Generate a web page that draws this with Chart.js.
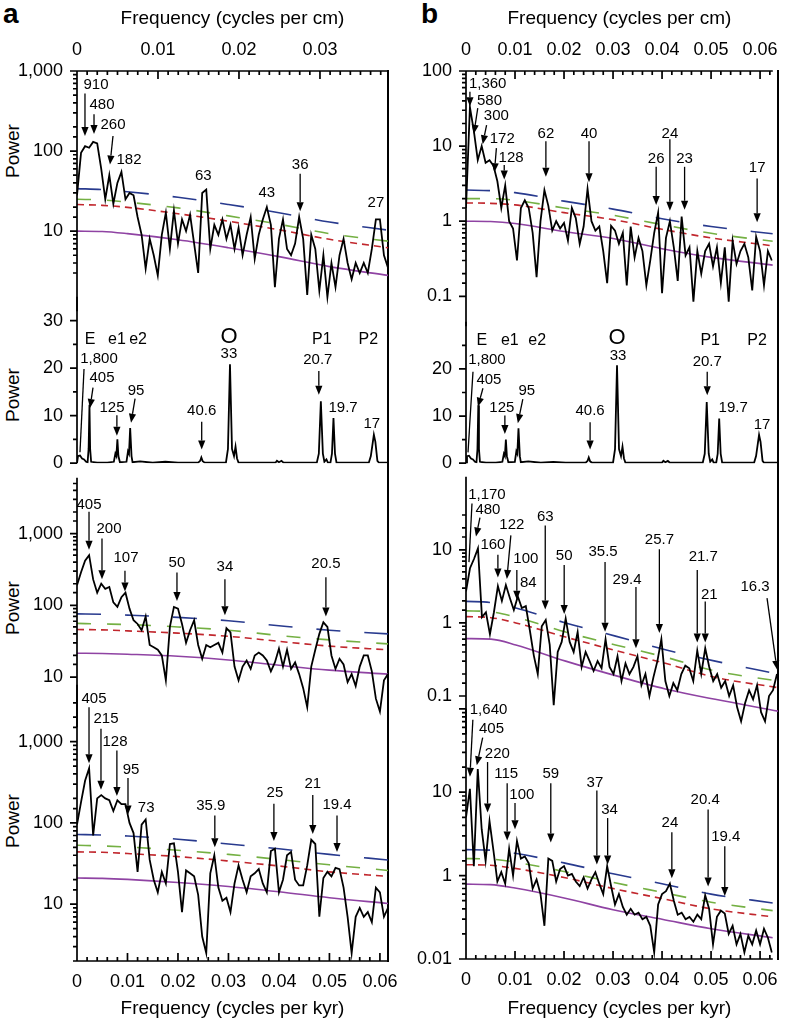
<!DOCTYPE html>
<html>
<head>
<meta charset="utf-8">
<script src="https://cdn.jsdelivr.net/npm/chart.js@4"></script>
<style>
  body { margin: 0; width: 788px; height: 1020px; position: relative; overflow: hidden; background: #fff;
         font-family: "Liberation Sans", Arial, Helvetica, sans-serif; }
  canvas { position: absolute; }
  .power { position: absolute; font-size: 19px; transform: translate(-50%, -50%) rotate(-90deg); white-space: nowrap; }
  .letter { position: absolute; font-size: 28px; font-weight: bold; }
  .edge { position: absolute; width: 2px; background: #000; }
</style>
</head>
<body>
<div class="letter" style="left:3px;top:-2px">a</div>
<div class="letter" style="left:421px;top:-2px">b</div>
<div class="power" style="left:13px;top:151px">Power</div>
<div class="power" style="left:13px;top:395px">Power</div>
<div class="power" style="left:13px;top:608px">Power</div>
<div class="power" style="left:13px;top:821px">Power</div>
<div class="edge" style="left:387px;top:70px;height:892px"></div>
<div class="edge" style="left:777px;top:70px;height:890px"></div>
<script>
const FONT = '"Liberation Sans", Arial, Helvetica, sans-serif';
Chart.defaults.font.family = FONT;
Chart.defaults.color = '#000';

// frequency grid (cycles per kyr) for the measured spectra
const freq = [0, 0.0008, 0.0016, 0.0024, 0.0032, 0.004, 0.0048, 0.0056, 0.0064, 0.0072,
  0.008, 0.0088, 0.0096, 0.0104, 0.0112, 0.012, 0.0128, 0.0136, 0.0144, 0.0152,
  0.016, 0.0168, 0.0176, 0.0184, 0.0192, 0.02, 0.0208, 0.0216, 0.0224, 0.0232,
  0.024, 0.0248, 0.0256, 0.0264, 0.0272, 0.028, 0.0288, 0.0296, 0.0304, 0.0312,
  0.032, 0.0328, 0.0336, 0.0344, 0.0352, 0.036, 0.0368, 0.0376, 0.0384, 0.0392,
  0.04, 0.0408, 0.0416, 0.0424, 0.0432, 0.044, 0.0448, 0.0456, 0.0464, 0.0472,
  0.048, 0.0488, 0.0496, 0.0504, 0.0512, 0.052, 0.0528, 0.0536, 0.0544, 0.0552,
  0.056, 0.0568, 0.0576, 0.0584, 0.0592, 0.06, 0.0608, 0.0616, 0.0624];

// column a spectra
const powerA1 = [28, 95, 115, 110, 130, 125, 60, 25, 50, 22,
  40, 55, 25, 30, 28, 15, 9, 3.4, 8, 5,
  2.8, 9, 17, 6, 18, 7, 14, 10, 16, 7,
  3, 30, 33, 6, 12, 9, 14, 8, 12, 6,
  11, 5, 9, 15, 4.5, 9, 14, 20, 12, 2,
  8, 14, 6, 5, 7, 15, 8, 1.6, 9, 6,
  1.8, 5, 1.5, 4, 2, 5, 8, 4, 2.5, 4,
  3, 4, 3, 6, 14, 14, 5, 3.5];
const powerA3 = [190, 290, 420, 500, 230, 150, 200, 170, 180, 110,
  95, 130, 150, 90, 62, 55, 45, 70, 28, 26,
  24, 20, 9, 50, 95, 90, 55, 30, 45, 62,
  28, 18, 28, 26, 28, 30, 22, 48, 42, 14,
  9, 14, 17, 13, 20, 22, 20, 17, 12, 16,
  25, 14, 24, 13, 16, 11, 7, 3.8, 14, 24,
  40, 58, 50, 20, 13, 18, 15, 8.5, 11, 7.5,
  14, 20, 20, 12, 5, 3.3, 9, 11];
const powerA4 = [95, 180, 330, 470, 70, 200, 220, 200, 190, 140,
  190, 170, 170, 100, 75, 25, 95, 110, 35, 20,
  14, 25, 18, 55, 56, 25, 8, 26, 24, 22,
  13, 4, 2.5, 24, 40, 16, 11, 12, 8, 18,
  30, 20, 14, 22, 24, 27, 18, 14, 45, 48,
  14, 20, 40, 44, 20, 17, 17, 30, 62, 55,
  7, 21, 25, 22, 28, 27, 16, 7, 2.5, 7,
  9, 7, 8, 6, 16, 14, 7, 9];

// column b spectra
const powerB1 = [1.5, 33, 16, 6.5, 10, 6, 6.5, 5.5, 3.4, 1.5,
  3.0, 1.0, 0.8, 0.3, 1.5, 1.9, 1.5, 0.7, 0.18, 1.0,
  2.6, 1.6, 0.75, 1.0, 0.8, 0.95, 0.55, 1.5, 1.1, 0.5,
  0.85, 2.7, 1.0, 0.75, 0.85, 0.4, 0.15, 0.87, 0.75, 0.5,
  0.7, 0.14, 0.85, 0.33, 0.6, 0.4, 0.14, 0.3, 0.7, 1.3,
  0.11, 0.6, 1.0, 0.45, 0.16, 1.15, 0.35, 0.45, 0.085, 0.4,
  0.2, 0.4, 0.5, 0.25, 0.45, 0.15, 0.45, 0.085, 0.55, 0.27,
  0.4, 0.5, 0.33, 0.12, 0.62, 0.4, 0.14, 0.4, 0.3];
const powerB3 = [2.7, 5.6, 7.5, 10.5, 1.2, 1.4, 0.7, 1.4, 3.2, 2.0,
  3.3, 2.2, 1.5, 2.3, 1.6, 1.7, 0.8, 0.36, 0.2, 0.9,
  1.1, 0.5, 0.075, 0.4, 0.55, 1.15, 0.55, 0.4, 0.75, 0.25,
  0.4, 0.3, 0.22, 0.3, 0.24, 0.6, 0.25, 0.2, 0.35, 0.16,
  0.28, 0.2, 0.25, 0.35, 0.14, 0.2, 0.1, 0.18, 0.3, 0.6,
  0.16, 0.1, 0.15, 0.12, 0.2, 0.26, 0.24, 0.16, 0.42, 0.2,
  0.45, 0.25, 0.16, 0.2, 0.13, 0.16, 0.1, 0.14, 0.07, 0.045,
  0.08, 0.12, 0.09, 0.14, 0.06, 0.045, 0.1, 0.12, 0.2];
const powerB4 = [5, 11, 1.3, 19, 3.6, 1.5, 4.5, 2.0, 0.85, 1.1,
  0.8, 2.1, 1.0, 2.6, 1.6, 1.7, 1.4, 0.7, 0.9, 0.6,
  0.25, 1.6, 1.5, 0.85, 1.2, 1.3, 1.0, 1.05, 0.85, 0.75,
  0.95, 0.7, 0.9, 1.1, 0.8, 0.6, 1.3, 0.75, 0.45, 0.6,
  0.42, 0.34, 0.4, 0.34, 0.36, 0.3, 0.32, 0.25, 0.12, 0.45,
  0.6, 0.65, 0.8, 0.5, 0.34, 0.36, 0.3, 0.32, 0.28, 0.34,
  0.3, 0.58, 0.4, 0.15, 0.32, 0.38, 0.35, 0.2, 0.25, 0.15,
  0.2, 0.12, 0.19, 0.15, 0.22, 0.15, 0.23, 0.18, 0.12];

// astronomical target spectrum (same in both columns)
const targetF = [0, 0.0002, 0.0006, 0.001, 0.0014, 0.0018, 0.0021, 0.0023, 0.00247, 0.0026, 0.0028,
  0.004, 0.006, 0.0073, 0.0076, 0.0078, 0.008, 0.0082, 0.0085, 0.0098, 0.0101, 0.0103, 0.01053,
  0.0108, 0.011, 0.0125, 0.015, 0.0175, 0.02, 0.024, 0.0244, 0.02463, 0.0249, 0.0253, 0.0295,
  0.0299, 0.0303, 0.0307, 0.0311, 0.0314, 0.0317, 0.032, 0.035, 0.0393, 0.0396, 0.04, 0.0405,
  0.0409, 0.0475, 0.0479, 0.0483, 0.0487, 0.049, 0.0494, 0.0497, 0.0502, 0.0505, 0.0508, 0.0511,
  0.0514, 0.0578, 0.0582, 0.0586, 0.0588, 0.0591, 0.0595, 0.0598, 0.0626];
const targetP = [0, 1.5, 1.6, 1.0, 0.8, 0.3, 0.2, 3, 12.3, 3, 0.3,
  0.1, 0.1, 0.3, 2.0, 1.5, 5.0, 1.5, 0.2, 0.3, 2.5, 2.0, 7.4,
  1.5, 0.2, 0.4, 0.1, 0.3, 0.1, 0.1, 0.5, 1.2, 0.4, 0.1, 0.1,
  3, 20.8, 3, 1.5, 3.5, 1, 0.1, 0.1, 0.1, 0.5, 0.2, 0.5,
  0.1, 0.1, 2, 13, 2, 0.3, 0.8, 0.1, 0.1, 2, 9.5, 2,
  0.1, 0.1, 1.5, 4.5, 6, 4.5, 0.5, 0.1, 0.1];

// background / confidence levels: purple = red-noise fit, then red, green, blue levels
const levelFA = [0, 0.005, 0.01, 0.02, 0.03, 0.04, 0.05, 0.0616];
const levelFB = [0, 0.005, 0.01, 0.02, 0.03, 0.04, 0.05, 0.0626];
const purpleA1 = [10, 9.9, 9.3, 7.8, 6.2, 4.8, 3.6, 2.8];
const redA1 = [21.5, 21, 19.8, 16.5, 13.3, 10.4, 7.9, 6.2];
const greenA1 = [25, 24.5, 23, 19.5, 15.5, 12.2, 9.3, 7.5];
const blueA1 = [34, 33, 31, 26.5, 21.5, 17, 13, 10.3];
const purpleA3 = [21.5, 21.3, 20.8, 19.5, 17.3, 14.6, 12.5, 11];
const redA3 = [46, 45.5, 44, 41, 37, 31.5, 27, 24];
const greenA3 = [56, 55, 54, 50, 45, 38, 33, 29];
const blueA3 = [76, 75, 73, 68, 61, 52, 45, 40];
const purpleA4 = [21, 20.8, 20.2, 18.5, 16.5, 14.2, 12, 10.2];
const redA4 = [44, 43.5, 42, 38.5, 34, 29.5, 25, 22];
const greenA4 = [53, 52, 50.5, 46, 41, 35.5, 30.5, 26];
const blueA4 = [72, 71, 69, 63, 55, 48, 41, 35];
const purpleB1 = [1.0, 0.99, 0.93, 0.73, 0.59, 0.43, 0.33, 0.26];
const redB1 = [1.75, 1.73, 1.65, 1.3, 1.05, 0.78, 0.6, 0.47];
const greenB1 = [2.0, 2.0, 1.9, 1.5, 1.2, 0.9, 0.69, 0.54];
const blueB1 = [2.6, 2.55, 2.4, 1.85, 1.45, 1.08, 0.85, 0.68];
const purpleB3 = [0.61, 0.6, 0.5, 0.3, 0.19, 0.125, 0.09, 0.062];
const redB3 = [1.22, 1.18, 1.0, 0.64, 0.42, 0.28, 0.18, 0.13];
const greenB3 = [1.46, 1.42, 1.2, 0.75, 0.5, 0.34, 0.22, 0.16];
const blueB3 = [1.97, 1.9, 1.6, 1.0, 0.66, 0.43, 0.3, 0.2];
const purpleB4 = [0.79, 0.78, 0.71, 0.54, 0.39, 0.3, 0.23, 0.18];
const redB4 = [1.35, 1.33, 1.22, 0.95, 0.7, 0.53, 0.4, 0.32];
const greenB4 = [1.6, 1.58, 1.45, 1.12, 0.83, 0.63, 0.48, 0.38];
const blueB4 = [2.05, 2.02, 1.85, 1.42, 1.05, 0.8, 0.6, 0.47];

// period labels: [text, label f, label power, arrow tail f, tail power, arrow tip f, tip power, kind]
const notesA1 = [
  ['910', 0.00376, 667, 0.00158, 522, 0.00158, 154],
  ['480', 0.00495, 377, 0.00337, 288, 0.00337, 163],
  ['260', 0.00713, 213, 0.00713, 154, 0.00653, 68],
  ['182', 0.0103, 78],
  ['63', 0.025, 49],
  ['43', 0.0376, 30],
  ['36', 0.0442, 68, 0.0442, 52, 0.0442, 17.7],
  ['27', 0.0592, 22.5]
];
const notesA2 = [
  ['1,800', 0.00436, 21.9, 0.00139, 19.8, 0.00059, 2.3, 'line'],
  ['405', 0.00495, 18, 0.00317, 15.9, 0.00257, 11.6],
  ['125', 0.00693, 11.7, 0.0079, 10.1, 0.0079, 5.8],
  ['95', 0.0117, 15.3, 0.0115, 13.6, 0.0107, 8.5],
  ['40.6', 0.0247, 11.1, 0.0247, 8.7, 0.0247, 2.9],
  ['33', 0.0301, 22.9],
  ['20.7', 0.0477, 21.7, 0.0479, 19.4, 0.0479, 14.4],
  ['19.7', 0.0527, 11.7],
  ['17', 0.0584, 8.2]
];
const lettersA2 = [['E', 0.00257, 26], ['e1', 0.0079, 26], ['e2', 0.0121, 26],
  ['O', 0.0301, 26.6], ['P1', 0.0485, 26], ['P2', 0.0577, 26]];
const notesA3 = [
  ['405', 0.00238, 2490, 0.00238, 2020, 0.00238, 596],
  ['200', 0.00634, 1160, 0.00495, 858, 0.00495, 231],
  ['107', 0.0097, 453, 0.0095, 304, 0.0095, 156],
  ['50', 0.0198, 388, 0.0198, 286, 0.0198, 115],
  ['34', 0.0293, 344, 0.0293, 231, 0.0293, 73],
  ['20.5', 0.0493, 377, 0.0493, 246, 0.0493, 70]
];
const notesA4 = [
  ['405', 0.00337, 3320, 0.00238, 2650, 0.00238, 541],
  ['215', 0.00574, 1900, 0.00475, 1440, 0.00475, 255],
  ['128', 0.00752, 1000, 0.0079, 778, 0.0079, 215],
  ['95', 0.0107, 445, 0.0101, 356, 0.0101, 127],
  ['73', 0.0137, 154],
  ['35.9', 0.0265, 163, 0.0273, 123, 0.0273, 50],
  ['25', 0.0392, 234, 0.039, 172, 0.039, 60],
  ['21', 0.0467, 301, 0.0467, 221, 0.0467, 73],
  ['19.4', 0.0515, 168, 0.0515, 123, 0.0515, 44]
];
const notesB1 = [
  ['1,360', 0.00442, 68, 0.0008, 53, 0.0008, 34],
  ['580', 0.0048, 40.5, 0.0024, 32, 0.0016, 14.6],
  ['300', 0.0062, 25.4, 0.0042, 19, 0.0034, 10.6],
  ['172', 0.0074, 12.3, 0.0062, 9.4, 0.0058, 4.5],
  ['128', 0.0092, 7.0, 0.0078, 5.6, 0.0078, 3.6],
  ['62', 0.0163, 14.6, 0.0163, 11.6, 0.0163, 3.9],
  ['40', 0.0251, 14.6, 0.0251, 11.6, 0.0251, 3.3],
  ['24', 0.0416, 14.6, 0.0416, 12.3, 0.0416, 1.38],
  ['26', 0.0388, 6.8, 0.0388, 5.3, 0.0388, 1.64],
  ['23', 0.0446, 6.8, 0.0446, 5.3, 0.0446, 1.42],
  ['17', 0.0594, 5.1, 0.0594, 3.7, 0.0594, 0.97]
];
const notesB2 = [
  ['1,800', 0.0042, 21.9, 0.0014, 19.4, 0.0004, 2.3, 'line'],
  ['405', 0.0046, 17.7, 0.0034, 15.9, 0.0024, 12],
  ['125', 0.0072, 11.7, 0.0078, 10.1, 0.0078, 6.2],
  ['95', 0.0122, 15.3, 0.0114, 13.6, 0.0104, 8.5],
  ['40.6', 0.0249, 11.1, 0.0249, 8.7, 0.0249, 2.9],
  ['33', 0.0305, 22.7],
  ['20.7', 0.0484, 21.4, 0.0484, 19.4, 0.0484, 14.4],
  ['19.7', 0.0536, 11.7],
  ['17', 0.0594, 8.2]
];
const lettersB2 = [['E', 0.0032, 26], ['e1', 0.0088, 26], ['e2', 0.0143, 26],
  ['O', 0.0303, 26.6], ['P1', 0.049, 26], ['P2', 0.0584, 26]];
const notesB3 = [
  ['1,170', 0.0042, 57, 0.0012, 43, 0.0006, 6.8, 'line'],
  ['480', 0.0044, 35, 0.0028, 27.7, 0.002, 15.2],
  ['122', 0.0092, 22, 0.009, 15.8, 0.0082, 4.0],
  ['160', 0.0054, 11.6, 0.0064, 8.6, 0.0064, 4.2],
  ['100', 0.012, 7.6, 0.0102, 5.3, 0.0102, 2.07],
  ['84', 0.0125, 3.5],
  ['63', 0.0159, 28, 0.0159, 21.5, 0.0159, 1.53],
  ['50', 0.0197, 8.2, 0.0197, 6.2, 0.0197, 1.32],
  ['35.5', 0.0275, 9.4, 0.0279, 6.8, 0.0279, 0.76],
  ['29.4', 0.0323, 3.9, 0.0341, 3.1, 0.0341, 0.45],
  ['25.7', 0.0388, 13.5, 0.0388, 10.2, 0.0388, 0.73],
  ['21.7', 0.0476, 8.1, 0.0464, 5.3, 0.0464, 0.54],
  ['21', 0.0488, 2.45, 0.048, 1.97, 0.048, 0.54],
  ['16.3', 0.058, 3.1, 0.0604, 2.18, 0.0624, 0.23]
];
const notesB4 = [
  ['1,640', 0.0046, 97, 0.0014, 74, 0.0008, 15.3],
  ['405', 0.0052, 58, 0.0034, 45, 0.0022, 21],
  ['220', 0.0064, 28.8, 0.0044, 23, 0.0044, 5.7],
  ['115', 0.0082, 16.4, 0.0084, 12.8, 0.0084, 2.63],
  ['100', 0.0114, 9.3, 0.01, 7.4, 0.01, 3.6],
  ['59', 0.0173, 16.4, 0.0173, 12.8, 0.0173, 2.5],
  ['37', 0.0263, 13, 0.0267, 10.5, 0.0267, 1.36],
  ['34', 0.0293, 6.1, 0.0289, 4.9, 0.0289, 1.36],
  ['24', 0.0416, 4.3, 0.042, 3.3, 0.042, 0.93],
  ['20.4', 0.0488, 8.0, 0.0494, 6.2, 0.0494, 0.74],
  ['19.4', 0.053, 2.9, 0.0528, 2.25, 0.0528, 0.57]
];

// y tick labels shown on each panel: [value, text]
const yLabelsLog3 = [[10, '10'], [100, '100'], [1000, '1,000']];
const yLabelsA2 = [[0, '0'], [10, '10'], [20, '20'], [30, '30']];
const yLabelsB1 = [[0.1, '0.1'], [1, '1'], [10, '10'], [100, '100']];
const yLabelsB2 = [[0, '0'], [10, '10'], [20, '20']];
const yLabelsB3 = [[0.1, '0.1'], [1, '1'], [10, '10']];
const yLabelsB4 = [[0.1, '0.01'], [1, '1'], [10, '10']];

const COLORS = { purple: '#8f43a3', red: '#c1272d', green: '#74b043', blue: '#283a8e' };

function arrow(ctx, x1, y1, x2, y2, head) {
  const ang = Math.atan2(y2 - y1, x2 - x1);
  const hl = head ? 9 : 0, hw = 3.6;
  const c = Math.cos(ang), s = Math.sin(ang);
  ctx.beginPath();
  ctx.moveTo(x1, y1);
  ctx.lineTo(x2 - hl * c, y2 - hl * s);
  ctx.stroke();
  if (head) {
    ctx.beginPath();
    ctx.moveTo(x2, y2);
    ctx.lineTo(x2 - hl * c - hw * s, y2 - hl * s + hw * c);
    ctx.lineTo(x2 - hl * c + hw * s, y2 - hl * s - hw * c);
    ctx.closePath();
    ctx.fill();
  }
}

// frame, inward/outward tick marks and the period labels
const decor = {
  id: 'decor',
  afterDatasetsDraw(chart, args, o) {
    const { ctx, chartArea: a, scales } = chart;
    const xs = scales.x, ys = scales.y;
    const px = v => xs.getPixelForValue(v), py = v => ys.getPixelForValue(v);
    ctx.save();
    ctx.setLineDash([]);
    ctx.strokeStyle = '#000';
    ctx.fillStyle = '#000';
    ctx.lineWidth = 1.7;
    ctx.beginPath();
    ctx.moveTo(a.left, a.top); ctx.lineTo(a.left, a.bottom);
    ys.ticks.forEach(t => {
      const v = t.value;
      if (v < o.tickLo * 0.999 || v > o.tickHi * 1.001) return;
      const major = o.log ? Math.abs(Math.log10(v) - Math.round(Math.log10(v))) < 1e-6 : Math.round(v) % 10 === 0;
      const y = py(v);
      ctx.moveTo(a.left - (major ? 7 : 4), y); ctx.lineTo(a.left, y);
    });
    if (o.bottom) {
      ctx.moveTo(a.left, a.bottom); ctx.lineTo(a.right, a.bottom);
      for (let k = 0; k * 0.002 <= xs.max + 1e-9; k++) {
        const x = px(k * 0.002);
        ctx.moveTo(x, a.bottom); ctx.lineTo(x, a.bottom - (k % 5 === 0 ? 8 : 4));
      }
    }
    if (o.top) {
      const xt = scales.xt;
      const n = Math.round(0.01 / o.topStep);
      ctx.moveTo(a.left, a.top); ctx.lineTo(a.right, a.top);
      for (let k = 0; k * o.topStep <= xt.max + 1e-9; k++) {
        const x = xt.getPixelForValue(k * o.topStep);
        ctx.moveTo(x, a.top); ctx.lineTo(x, a.top + (k % n === 0 ? 8 : 4));
      }
    }
    ctx.stroke();

    ctx.lineWidth = 1.3;
    ctx.textAlign = 'center';
    ctx.textBaseline = 'middle';
    ctx.font = '15px ' + FONT;
    (o.notes || []).forEach(n => {
      ctx.fillText(n[0], px(n[1]), py(n[2]));
      if (n.length > 3) arrow(ctx, px(n[3]), py(n[4]), px(n[5]), py(n[6]), n[7] !== 'line');
    });
    (o.letters || []).forEach(n => {
      ctx.font = (n[0] === 'O' ? 22 : 16) + 'px ' + FONT;
      ctx.fillText(n[0], px(n[1]), py(n[2]));
    });
    ctx.restore();
  }
};

function spectrum(xs, ys) {
  return { data: ys.map((v, i) => ({ x: xs[i], y: v })), borderColor: '#000', borderWidth: 1.8,
    pointRadius: 0, tension: 0 };
}
function level(xs, ys, color, dash) {
  return { data: ys.map((v, i) => ({ x: xs[i], y: v })), borderColor: color, borderWidth: 1.6,
    borderDash: dash, pointRadius: 0, cubicInterpolationMode: 'monotone' };
}
function levels(xs, p, r, g, b) {
  return [level(xs, p, COLORS.purple, []), level(xs, r, COLORS.red, [7, 5]),
    level(xs, g, COLORS.green, [14, 16]), level(xs, b, COLORS.blue, [24, 24])];
}
const fmtFreq = v => Math.abs(v) < 1e-9 ? '0' : String(Math.round(v * 100) / 100);

function makePanel(p) {
  const cv = document.createElement('canvas');
  cv.width = p.w; cv.height = p.h;
  cv.style.left = p.left + 'px';
  cv.style.top = p.top + 'px';
  document.body.appendChild(cv);

  const scales = {
    x: {
      type: 'linear', min: 0, max: p.xMax, display: !!p.bottom, position: 'bottom',
      afterFit: s => { s.height = p.bottom || 0; },
      grid: { display: false, drawTicks: false }, border: { display: false },
      ticks: { stepSize: 0.01, includeBounds: false, padding: 10, font: { size: 18 }, maxRotation: 0,
        autoSkip: false, callback: fmtFreq },
      title: { display: true, text: 'Frequency (cycles per kyr)', font: { size: 19 }, padding: 0 }
    },
    y: {
      type: p.log ? 'logarithmic' : 'linear', min: p.yMin, max: p.yMax, position: 'left',
      afterFit: s => { s.width = p.yw; },
      grid: { display: false, drawTicks: true, tickLength: 6 }, border: { display: false },
      ticks: {
        autoSkip: false, padding: 8, font: { size: 18 }, stepSize: p.log ? undefined : 5,
        callback: v => {
          const m = p.labels.find(l => Math.abs(l[0] - v) <= 1e-9 + 1e-6 * l[0]);
          return m ? m[1] : '';
        }
      }
    }
  };
  if (p.topAxis) {
    scales.xt = {
      type: 'linear', min: 0, max: p.topAxis.max, position: 'top',
      afterFit: s => { s.height = p.topAxis.h; },
      grid: { display: false, drawTicks: false }, border: { display: false },
      ticks: { stepSize: 0.01, includeBounds: false, padding: 10, font: { size: 18 }, maxRotation: 0,
        autoSkip: false, callback: fmtFreq },
      title: { display: true, text: 'Frequency (cycles per cm)', font: { size: 19 }, padding: { top: 7, bottom: 0 } }
    };
  }

  new Chart(cv, {
    type: 'line',
    data: { datasets: p.datasets },
    options: {
      responsive: false, animation: false, events: [],
      layout: { padding: { top: p.padT, bottom: p.padB, left: 0, right: p.padR } },
      plugins: {
        legend: { display: false }, tooltip: { enabled: false },
        decor: { log: p.log, tickLo: p.tickLo, tickHi: p.tickHi, top: !!p.topAxis, topStep: p.topAxis ? p.topAxis.step : 0,
          bottom: !!p.bottom, notes: p.notes, letters: p.letters }
      },
      scales
    },
    plugins: [decor]
  });
}

const colA = { left: 0, w: 410, yw: 77, padR: 22, xMax: 0.0616 };
const colB = { left: 400, w: 388, yw: 66, padR: 10, xMax: 0.0626 };

const panels = [
  { ...colA, top: 0, h: 330, padT: 0, padB: 4, topAxis: { max: 0.0384, step: 0.00125, h: 71 },
    log: true, yMin: 1, yMax: 1000, labels: yLabelsLog3, tickLo: 3, tickHi: 1000,
    datasets: [spectrum(freq, powerA1), ...levels(levelFA, purpleA1, redA1, greenA1, blueA1)], notes: notesA1 },
  { ...colA, top: 278, h: 204, padT: 14, padB: 10, log: false, yMin: 0, yMax: 35, labels: yLabelsA2, tickLo: 0, tickHi: 30,
    datasets: [spectrum(targetF, targetP)], notes: notesA2, letters: lettersA2 },
  { ...colA, top: 459, h: 287, padT: 14, padB: 10, log: true, yMin: 2, yMax: 6000, labels: yLabelsLog3, tickLo: 10, tickHi: 5000,
    datasets: [spectrum(freq, powerA3), ...levels(levelFA, purpleA3, redA3, greenA3, blueA3)], notes: notesA3 },
  { ...colA, top: 666, h: 354, padT: 14, padB: 0, bottom: 59, log: true, yMin: 2, yMax: 5000, labels: yLabelsLog3, tickLo: 2, tickHi: 3000,
    datasets: [spectrum(freq, powerA4), ...levels(levelFA, purpleA4, redA4, greenA4, blueA4)], notes: notesA4 },

  { ...colB, top: 0, h: 345, padT: 0, padB: 4, topAxis: { max: 0.0626, step: 0.002, h: 71 },
    log: true, yMin: 0.04, yMax: 100, labels: yLabelsB1, tickLo: 0.1, tickHi: 100,
    datasets: [spectrum(freq, powerB1), ...levels(levelFB, purpleB1, redB1, greenB1, blueB1)], notes: notesB1 },
  { ...colB, top: 303, h: 179, padT: 14, padB: 10, log: false, yMin: 0, yMax: 30, labels: yLabelsB2, tickLo: 0, tickHi: 25,
    datasets: [spectrum(targetF, targetP)], notes: notesB2, letters: lettersB2 },
  { ...colB, top: 458, h: 295, padT: 14, padB: 10, log: true, yMin: 0.03, yMax: 100, labels: yLabelsB3, tickLo: 0.1, tickHi: 30,
    datasets: [spectrum(freq, powerB3), ...levels(levelFB, purpleB3, redB3, greenB3, blueB3)], notes: notesB3 },
  { ...colB, top: 690, h: 330, padT: 14, padB: 0, bottom: 61, log: true, yMin: 0.1, yMax: 100, labels: yLabelsB4, tickLo: 0.1, tickHi: 100,
    datasets: [spectrum(freq, powerB4), ...levels(levelFB, purpleB4, redB4, greenB4, blueB4)], notes: notesB4 }
];

panels.forEach(makePanel);
</script>
</body>
</html>
